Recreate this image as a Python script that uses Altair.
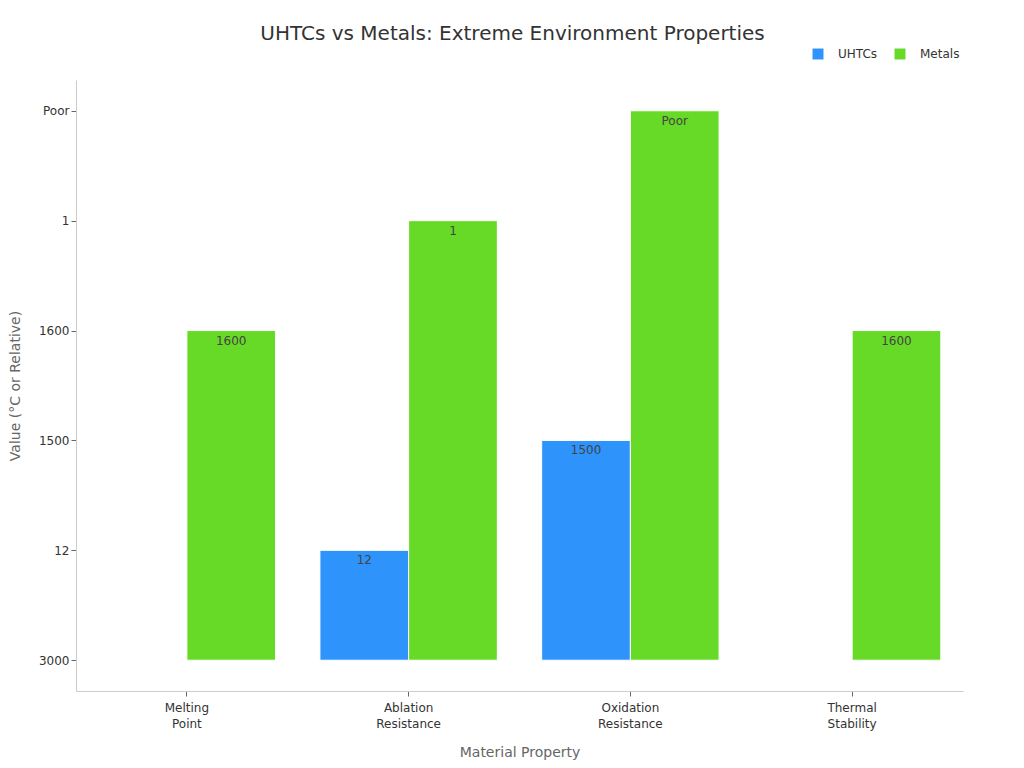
import altair as alt
import pandas as pd

properties = ["Melting Point", "Ablation Resistance", "Oxidation Resistance", "Thermal Stability"]
series = ["UHTCs", "Metals"]
uhtcs = ["3000", "12", "1500", "3000"]
metals = ["1600", "1", "Poor", "1600"]
y_categories = ["3000", "12", "1500", "1600", "1", "Poor"]
colors = ["#2E93FA", "#66DA26"]

rows = []
for p, u, m in zip(properties, uhtcs, metals):
    rows.append({"property": p, "series": "UHTCs", "value": u})
    rows.append({"property": p, "series": "Metals", "value": m})
df = pd.DataFrame(rows)

FONT = "DejaVu Sans"

x_enc = alt.X(
    "property:N",
    sort=properties,
    scale=alt.Scale(paddingInner=0.2, paddingOuter=0.1),
    axis=alt.Axis(
        title="Material Property",
        labelExpr="split(datum.label, ' ')",
        labelAngle=0,
        labelFontSize=12,
        labelColor="#333333",
        labelLineHeight=16,
        titleFontSize=14,
        titleColor="#666666",
        titleFontWeight="normal",
        titlePadding=16,
        domainColor="#cccccc",
        tickColor="#666666",
        tickSize=5,
        labelPadding=6,
    ),
)
xoff = alt.XOffset("series:N", sort=series, scale=alt.Scale(paddingInner=0, paddingOuter=0))
y_enc = alt.Y(
    "value:O",
    scale=alt.Scale(type="point", domain=list(reversed(y_categories)), padding=0.28),
    axis=alt.Axis(
        title="Value (°C or Relative)",
        labelFontSize=12,
        labelColor="#333333",
        titleFontSize=14,
        titleColor="#666666",
        titleFontWeight="normal",
        titlePadding=16,
        domainColor="#cccccc",
        tickColor="#666666",
        tickSize=5,
        grid=False,
    ),
)

bars = alt.Chart(df).mark_bar(stroke="white", strokeWidth=1).encode(
    x=x_enc,
    xOffset=xoff,
    y=y_enc,
    y2=alt.datum("3000"),
    color=alt.Color(
        "series:N",
        sort=series,
        scale=alt.Scale(domain=series, range=colors),
        legend=alt.Legend(
            title=None,
            orient="none",
            legendX=736,
            legendY=-32,
            direction="horizontal",
            symbolType="square",
            symbolSize=120,
            symbolStrokeWidth=0,
            labelFontSize=12,
            labelColor="#333333",
            columnPadding=16,
            labelOffset=14,
        ),
    ),
)

labels = alt.Chart(df).transform_filter(alt.datum.value != "3000").mark_text(
    baseline="middle", dy=10, fontSize=12, color="#444444", font=FONT
).encode(
    x=alt.X("property:N", sort=properties),
    xOffset=alt.XOffset("series:N", sort=series),
    y=alt.Y("value:O"),
    text="value:N",
)

chart = (
    alt.layer(bars, labels)
    .properties(
        width=887,
        height=611,
        title=alt.Title(
            "UHTCs vs Metals: Extreme Environment Properties",
            fontSize=20,
            fontWeight="normal",
            color="#333333",
            font=FONT,
            anchor="middle",
            dx=-7,
            offset=4,
        ),
        autosize=alt.AutoSizeParams(type="none"),
        padding={"left": 68, "top": 72, "right": 45, "bottom": 76},
    )
    .configure(font=FONT)
    .configure_view(stroke=None)
)

chart.save("out.html", embed_options={"renderer": "svg", "actions": False})
